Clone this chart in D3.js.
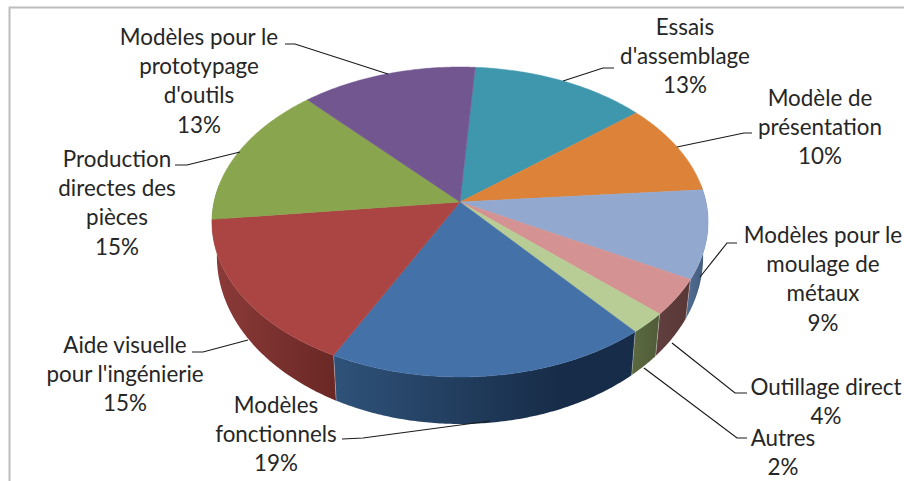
<!DOCTYPE html>
<html><head><meta charset="utf-8">
<script src="https://cdn.jsdelivr.net/npm/d3@7"></script>
<style>
html,body{margin:0;padding:0;background:#fff;overflow:hidden}
text{font-family:Lato,"Open Sans",sans-serif;font-size:22.4px;fill:#262626;text-anchor:middle}
</style></head><body><svg id="c" width="904" height="481"></svg>
<script>
const categories=["Essais\nd'assemblage","Modèle de\nprésentation","Modèles pour le\nmoulage de\nmétaux","Outillage direct","Autres","Modèles\nfonctionnels","Aide visuelle\npour l'ingénierie","Production\ndirectes des\npièces","Modèles pour le\nprototypage\nd'outils"];
const values=[13,9.6,9.2,3.8,2.2,18.6,15.7,14.9,13];
const pctLabels=["13%","10%","9%","4%","2%","19%","15%","15%","13%"];
const topColors=["#3f97ae","#dd8239","#92a8cf","#d49392","#b7cd95","#4471a8","#aa4543","#89a54e","#71568f"];
const sideFrom=["#2f6f80","#a55f28","#4f6a8f","#5f3e3d","#5a6840","#2f5279","#8c3b39","#66803a","#543f6b"];
const sideTo=["#2f6f80","#a55f28","#3f5878","#593736","#505c38","#172c48","#6a2825","#66803a","#543f6b"];
// label anchor (centre x, first line centre y) and leader polyline, both in page pixels
const labelX=[685,820,823,826,783,276,125,117,199];
const labelY=[27,98,235,387,438,405,345,159,37];
const leaders=[[[563,81],[603,68],[614,68]],[[677,147],[744,133],[752,133]],[[700,277],[727,243],[737,243]],[[672,343],[735,393],[747,393]],[[644,368],[737,438],[747,438]],[[490,421],[363,438],[342,439]],[[248,340],[203,352],[192,352]],[[240,152],[187,165],[175,165]],[[388,74],[295,44],[285,44]]];
const lineH=29.3;

const svg=d3.select("#c");
svg.append("path").attr("d","M9.5,481V7.5H904").attr("fill","none").attr("stroke","#bdbdbd").attr("stroke-width",2);

const cx=460,cy=202,a=246,b=152.4,p=0.129;
const toRad=Math.PI/180;
function proj(t,lower){
  const u=Math.sin(t),v=-Math.cos(t),w=1-p*v;
  return lower?[cx+0.98*a*u/w,cy+33+1.08*b*v/w]:[cx+a*u/w,cy+b*v/w];
}
const pie=d3.pie().sort(null).startAngle(4*toRad).endAngle(364*toRad);
const arcs=pie(values);
const line=d3.line();
const samples=d=>{const n=Math.max(8,Math.ceil((d.endAngle-d.startAngle)/0.01));
  return d3.range(n+1).map(i=>d.startAngle+(d.endAngle-d.startAngle)*i/n);};
const defs=svg.append("defs");
arcs.forEach((d,i)=>{
  const ts=samples(d);
  const xs=ts.map(t=>proj(t)[0]);
  const g=defs.append("linearGradient").attr("id","s"+i).attr("gradientUnits","userSpaceOnUse")
    .attr("x1",d3.min(xs)).attr("x2",d3.max(xs)).attr("y1",0).attr("y2",0);
  g.append("stop").attr("offset",0).attr("stop-color",sideFrom[i]);
  g.append("stop").attr("offset",i===5?0.75:1).attr("stop-color",sideTo[i]);
  if(i===5)g.append("stop").attr("offset",1).attr("stop-color",sideTo[i]);
  // only the near half of the cylinder wall is visible
  const vis=ts.filter(t=>Math.cos(t)<0.12);
  if(vis.length>1){
    const pts=vis.map(t=>proj(t)).concat(vis.slice().reverse().map(t=>proj(t,true)));
    svg.append("path").attr("d",line(pts)+"Z").attr("fill","url(#s"+i+")");
  }
});
// seams between wall segments
arcs.forEach(d=>{
  const t=d.startAngle;
  if(Math.cos(t)<0.05)
    svg.append("path").attr("d",line([proj(t),proj(t,true)])).attr("stroke","rgba(255,255,255,.3)").attr("stroke-width",1).attr("fill","none");
});
// top face
arcs.forEach((d,i)=>{
  const pts=[[cx,cy]].concat(samples(d).map(t=>proj(t)));
  svg.append("path").attr("d",line(pts)+"Z").attr("fill",topColors[i]).attr("stroke",topColors[i]).attr("stroke-width",0.5);
});
// leaders
leaders.forEach(l=>svg.append("path").attr("d",line(l)).attr("fill","none").attr("stroke","#1a1a1a").attr("stroke-width",1.2));
// labels
categories.forEach((c,i)=>{
  const lines=c.split("\n").concat(pctLabels[i]);
  const t=svg.append("text");
  lines.forEach((s,j)=>t.append("tspan").attr("x",labelX[i]).attr("y",labelY[i]+j*lineH).attr("dy","0.35em").text(s));
});
</script></body></html>
